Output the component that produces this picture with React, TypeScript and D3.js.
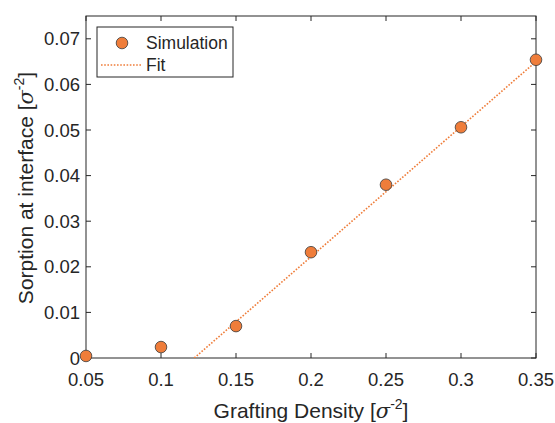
import React from "react";
import * as d3 from "d3";

const density = [0.05, 0.1, 0.15, 0.2, 0.25, 0.3, 0.35];
const sorption = [0.00045, 0.0024, 0.007, 0.0232, 0.038, 0.0506, 0.0654];
const fitX = [0.1222, 0.35];
const fitY = [0, 0.065];
const xTicks = [0.05, 0.1, 0.15, 0.2, 0.25, 0.3, 0.35];
const yTicks = [0, 0.01, 0.02, 0.03, 0.04, 0.05, 0.06, 0.07];

const W = 555;
const H = 423;
const left = 86, right = 536, top = 16, bottom = 358;
const orange = "#EF7D3A";
const axisCol = "#262626";
const font = "Liberation Sans, Arial, Helvetica, sans-serif";

const x = d3.scaleLinear().domain([0.05, 0.35]).range([left, right]);
const y = d3.scaleLinear().domain([0, 0.075]).range([bottom, top]);

const fitLine = d3
	.line<number>()
	.x((d, i) => x(fitX[i]))
	.y((d) => y(d));

const fmt = (v: number) => (v === 0 ? "0" : String(+v.toFixed(3)));

const Sigma = () => (
	<>
		{" ["}
		<tspan fontFamily="DejaVu Serif, serif" fontStyle="italic">σ</tspan>
		<tspan dy={-9} fontSize={14}>-2</tspan>
		<tspan dy={9}>]</tspan>
	</>
);

export default function App() {
	const tick = 5;
	return (
		<svg width={W} height={H} style={{ position: "absolute", left: 0, top: 0 }} fontFamily={font}>
			<rect width={W} height={H} fill="#fff" />
			<defs>
				<clipPath id="plot">
					<rect x={left} y={top} width={right - left} height={bottom - top} />
				</clipPath>
			</defs>
			{/* box */}
			<rect x={left} y={top} width={right - left} height={bottom - top} fill="none" stroke={axisCol} strokeWidth={1} />
			{xTicks.map((t) => (
				<g key={"x" + t}>
					<line x1={x(t)} x2={x(t)} y1={bottom} y2={bottom - tick} stroke={axisCol} />
					<line x1={x(t)} x2={x(t)} y1={top} y2={top + tick} stroke={axisCol} />
					<text x={x(t)} y={386} textAnchor="middle" fontSize={18.5} fill={axisCol}>
						{fmt(t)}
					</text>
				</g>
			))}
			{yTicks.map((t) => (
				<g key={"y" + t}>
					<line x1={left} x2={left + tick} y1={y(t)} y2={y(t)} stroke={axisCol} />
					<line x1={right} x2={right - tick} y1={y(t)} y2={y(t)} stroke={axisCol} />
					<text x={80} y={y(t)} dy="0.36em" textAnchor="end" fontSize={18.5} fill={axisCol}>
						{fmt(t)}
					</text>
				</g>
			))}
			<text x={311} y={418} textAnchor="middle" fontSize={21} fill={axisCol}>
				Grafting Density
				<Sigma />
			</text>
			<text transform={`translate(33,${188}) rotate(-90)`} textAnchor="middle" fontSize={21} fill={axisCol}>
				Sorption at interface
				<Sigma />
			</text>
			<path
				d={fitLine(fitY) || ""}
				fill="none"
				stroke={orange}
				strokeWidth={1.6}
				strokeDasharray="1.6 1.6"
				clipPath="url(#plot)"
			/>
			{density.map((d, i) => (
				<circle key={d} cx={x(d)} cy={y(sorption[i])} r={5.8} fill={orange} stroke="#3a3a3a" strokeWidth={0.8} />
			))}
			{/* legend */}
			<rect x={97} y={27} width={136} height={50} fill="#fff" stroke={axisCol} strokeWidth={1} />
			<circle cx={122} cy={43} r={5.8} fill={orange} stroke="#3a3a3a" strokeWidth={0.8} />
			<text x={146} y={43} dy="0.36em" fontSize={17.5} fill={axisCol}>Simulation</text>
			<line x1={101} x2={142} y1={65} y2={65} stroke={orange} strokeWidth={1.6} strokeDasharray="1.6 1.6" />
			<text x={146} y={65} dy="0.36em" fontSize={17.5} fill={axisCol}>Fit</text>
		</svg>
	);
}
